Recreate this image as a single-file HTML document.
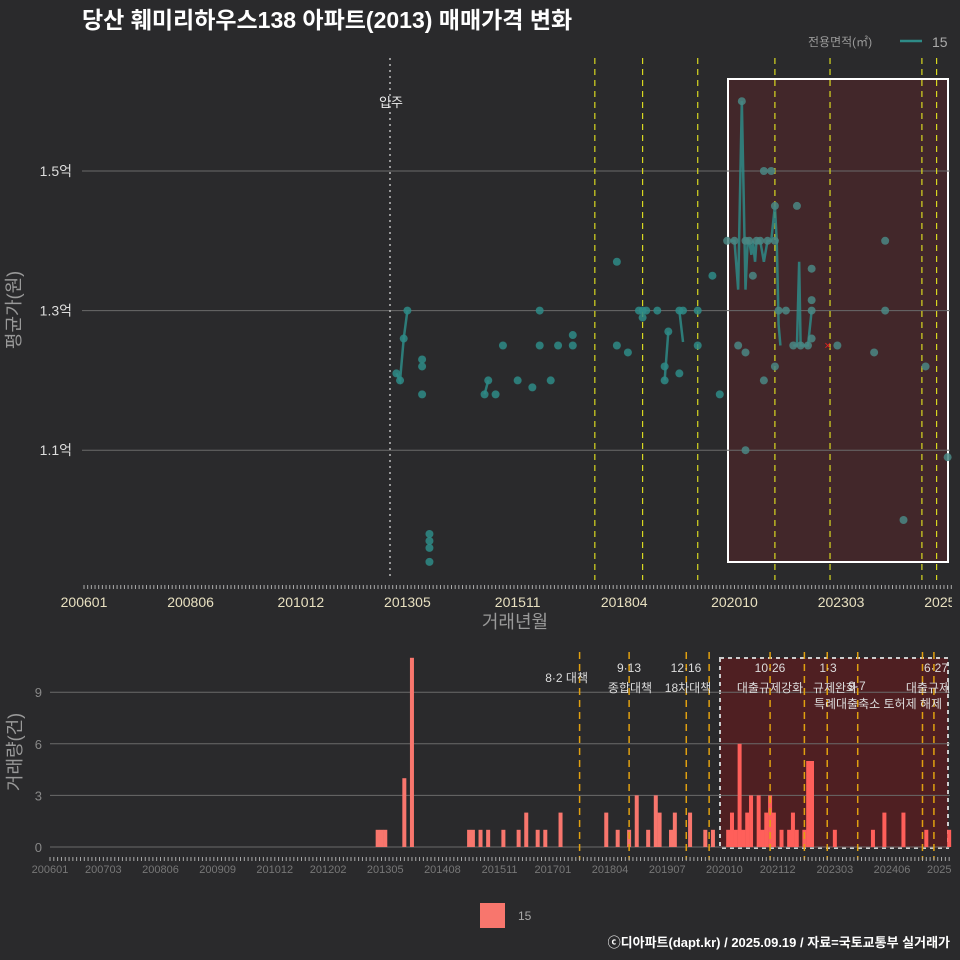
<!DOCTYPE html>
<html><head><meta charset="utf-8"><style>
body{margin:0;background:#2a2a2c;}
svg{display:block;font-family:"Liberation Sans","Noto Sans CJK KR",sans-serif;}
</style></head><body>
<svg id="c" width="960" height="960" viewBox="0 0 960 960">
<defs><clipPath id="cp"><rect x="0" y="0" width="952" height="960"/></clipPath></defs>
<rect width="960" height="960" fill="#2a2a2c"/>
<text x="82" y="28" fill="#fff" font-size="23" font-weight="bold">당산 훼미리하우스138 아파트(2013) 매매가격 변화</text>
<text x="808" y="46" fill="#999" font-size="12">전용면적(㎡)</text>
<line x1="900" y1="41" x2="922" y2="41" stroke="#2e8b87" stroke-width="2.5"/>
<text x="932" y="47" fill="#aaa" font-size="14">15</text>
<g id="top" clip-path="url(#cp)"></g><g id="bot" clip-path="url(#cp)"></g>
<rect x="480" y="903" width="25" height="25" fill="#f8766d"/>
<text x="518" y="920" fill="#aaa" font-size="12">15</text>
<text x="950" y="947" fill="#fff" font-size="13" font-weight="bold" text-anchor="end">ⓒ디아파트(dapt.kr) / 2025.09.19 / 자료=국토교통부 실거래가</text>
</svg>
<script>
const ptMonths=[85,86,87,88,92,92,92,94,94,94,94,109,110,112,114,118,122,124,124,127,129,133,133,145,145,148,151,152,152,153,156,158,158,159,162,162,163,167,167,171,173,175,177,178,179,180,180,180,181,182,183,184,185,185,186,187,188,188,188,189,191,193,194,195,197,198,198,198,198,205,215,218,218,223,229,235];
const ptValues=[1.21,1.20,1.26,1.30,1.23,1.22,1.18,0.98,0.97,0.96,0.94,1.18,1.20,1.18,1.25,1.20,1.19,1.30,1.25,1.20,1.25,1.265,1.25,1.37,1.25,1.24,1.30,1.30,1.29,1.30,1.30,1.20,1.22,1.27,1.30,1.21,1.30,1.30,1.25,1.35,1.18,1.40,1.40,1.25,1.60,1.24,1.10,1.40,1.40,1.35,1.40,1.40,1.50,1.20,1.40,1.50,1.45,1.22,1.40,1.30,1.30,1.25,1.45,1.25,1.25,1.36,1.315,1.30,1.26,1.25,1.24,1.40,1.30,1.00,1.22,1.09];
const lineMonths=[85,86,87,88,null,109,110,null,158,159,null,162,163,null,176,177,178,179,180,180.6,181,181.6,182,182.6,183,184,185,186,187,188,188.5,189,189.5,null,193,194,194.6,195,196,197,198];
const lineValues=[1.21,1.20,1.26,1.30,null,1.18,1.20,null,1.20,1.27,null,1.30,1.255,null,1.40,1.40,1.33,1.60,1.33,1.40,1.40,1.38,1.40,1.37,1.40,1.40,1.37,1.40,1.40,1.45,1.40,1.28,1.25,null,1.25,1.25,1.37,1.25,1.25,1.25,1.30];
const barMonths=[86,87,88,93,95,110,111,113,115,119,123,125,128,130,134,146,149,152,154,157,159,160,163,164,168,172,174,178,179,180,181,182,183,184,186,187,188,189,190,192,194,195,196,198,199,200,206,216,219,224,230,236];
const barCounts=[1,1,1,4,11,1,1,1,1,1,1,2,1,1,2,2,1,1,3,1,3,2,1,2,2,1,1,1,2,1,6,1,2,3,3,1,2,3,2,1,1,2,1,1,5,5,1,1,2,2,1,1];
const topTicks=["1.1억","1.3억","1.5억"];const topTickVals=[1.1,1.3,1.5];
const botTickVals=[0,3,6,9];
const xLabels=["200601","200806","201012","201305","201511","201804","202010","202303","202508"];
const policyMonths=[139,152,167,188,203,228,232];
const botPolicyMonths=[139,152,167,173,189,198,204,212,229,232];
const NS="http://www.w3.org/2000/svg";
function mk(p,t,a){const e=document.createElementNS(NS,t);for(const k in a)e.setAttribute(k,a[k]);p.appendChild(e);return e;}
function mIdx(s){return (parseInt(s.slice(0,4))-2006)*12+parseInt(s.slice(4))-1;}
const xT=m=>84+m*3.675, yT=v=>171+(1.5-v)*698;
const xB=m=>50+m*3.81, yB=v=>847-v*17.2;
const T=document.getElementById('top'),B=document.getElementById('bot');
let r=mk(T,'rect',{x:728,y:79,width:220,height:483,fill:'rgba(95,35,40,0.45)',stroke:'#fff','stroke-width':2});

topTickVals.forEach((v,i)=>{let l=mk(T,'line',{x1:82,x2:950,y1:yT(v),y2:yT(v),stroke:'#6a6a6a','stroke-width':1});

let t=mk(T,'text',{x:72,y:yT(v)+5,fill:'#ddd','font-size':14,'text-anchor':'end'});t.textContent=topTicks[i];
});
let ml=mk(T,'line',{x1:390,x2:390,y1:58,y2:580,stroke:'#bbb','stroke-width':1.5,'stroke-dasharray':'2,4'});

let mt=mk(T,'text',{x:391,y:107,fill:'#eee','font-size':13,'text-anchor':'middle'});mt.textContent='입주';

policyMonths.forEach(m=>{let l=mk(T,'line',{x1:xT(m),x2:xT(m),y1:58,y2:580,stroke:'#d8d820','stroke-width':1.2,'stroke-dasharray':'6,5'});
});
let d='',pen=false;lineMonths.forEach((m,i)=>{if(m===null){pen=false;return;}d+=(pen?'L':'M')+xT(m)+','+yT(lineValues[i]);pen=true;});
let pl=mk(T,'path',{d:d,fill:'none',stroke:'#2e8b87','stroke-width':2.5,opacity:0.85});

ptMonths.forEach((m,i)=>{let c=mk(T,'circle',{cx:xT(m),cy:yT(ptValues[i]),r:4,fill:m>=175?'#4a8784':'#2e8b87',opacity:0.85});
});
let rx=mk(T,'text',{x:xT(202.4),y:yT(1.25)+4,fill:'#e02020','font-size':12,'text-anchor':'middle'});rx.textContent='×';

for(let m=0;m<=236;m++){mk(T,'line',{x1:xT(m),x2:xT(m),y1:585,y2:589,stroke:'#aaa','stroke-width':1});}
xLabels.forEach(s=>{let t=mk(T,'text',{x:xT(mIdx(s)),y:607,fill:'#e8e0c0','font-size':14,'text-anchor':'middle'});t.textContent=s;
});
let xa=mk(T,'text',{x:515,y:628,fill:'#999','font-size':18,'text-anchor':'middle'});xa.textContent='거래년월';

let ya=mk(T,'text',{x:0,y:0,fill:'#999','font-size':18,'text-anchor':'middle',transform:'translate(20,310) rotate(-90)'});ya.textContent='평균가(원)';

let rb=mk(B,'rect',{x:720,y:658,width:228,height:190,fill:'rgba(105,25,28,0.6)',stroke:'#ccc','stroke-width':2,'stroke-dasharray':'4,4'});

botTickVals.forEach(v=>{let l=mk(B,'line',{x1:50,x2:950,y1:yB(v),y2:yB(v),stroke:'#6a6a6a','stroke-width':1});

let t=mk(B,'text',{x:42,y:yB(v)+5,fill:'#888','font-size':13,'text-anchor':'end'});t.textContent=v;
});
barMonths.forEach((m,i)=>{let b=mk(B,'rect',{x:xB(m)-2,y:yB(barCounts[i]),width:4,height:barCounts[i]*17.2,fill:m>=176?'#ff5f5a':'#f8766d'});
});
botPolicyMonths.forEach(m=>{let l=mk(B,'line',{x1:xB(m),x2:xB(m),y1:652,y2:860,stroke:'#e0a010','stroke-width':1.5,'stroke-dasharray':'7,5'});
});
const ann=[[588,682,'8·2 대책','end'],[629,672,'9·13','middle'],[630,692,'종합대책','middle'],[686,672,'12·16','middle'],[688,692,'18차대책','middle'],[770,672,'10·26','middle'],[770,692,'대출규제강화','middle'],[828,672,'1·3','middle'],[835,692,'규제완화','middle'],[857,690,'9·7','middle'],[878,708,'특례대출축소 토허제 해제','middle'],[936,672,'6·27','middle'],[950,692,'대출규제','end']];
ann.forEach(a=>{let t=mk(B,'text',{x:a[0],y:a[1],fill:'#ddd','font-size':12,'text-anchor':a[3]});t.textContent=a[2];
});
for(let m=0;m<=236;m++){mk(B,'line',{x1:xB(m),x2:xB(m),y1:857,y2:861,stroke:'#aaa','stroke-width':1});}
const bl=["200601","200703","200806","200909","201012","201202","201305","201408","201511","201701","201804","201907","202010","202112","202303","202406","202508"];
bl.forEach(s=>{let t=mk(B,'text',{x:xB(mIdx(s)),y:873,fill:'#777','font-size':11,'text-anchor':'middle'});t.textContent=s;
});
let yb=mk(B,'text',{x:0,y:0,fill:'#999','font-size':18,'text-anchor':'middle',transform:'translate(21,752) rotate(-90)'});yb.textContent='거래량(건)';

</script>
</body></html>
